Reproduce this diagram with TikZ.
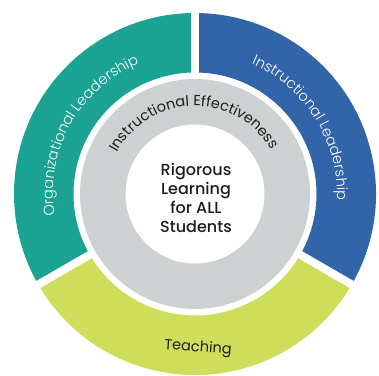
\documentclass[tikz,border=0pt]{standalone}
\usepackage{fontspec}
\setmainfont{Poppins}
\newfontfamily\poplight{Poppins Light}
\newfontfamily\popmed{Poppins Medium}
\usetikzlibrary{decorations.text}
\definecolor{orgteal}{HTML}{1AA393}
\definecolor{instblue}{HTML}{3164A9}
\definecolor{teachgreen}{HTML}{CEDE5A}
\definecolor{effgray}{HTML}{CDD1D2}
\definecolor{inkdark}{HTML}{1E1E1E}
\newcommand\efftext{\fontsize{14.5}{14.5}\selectfont\color{inkdark}}
\newcommand\ringtext{\poplight\fontsize{14.5}{14.5}\selectfont\color{white}}
\begin{document}
\begin{tikzpicture}[x=1pt,y=1pt,
  gap/.style={white,line width=8pt},
  arclabel/.style={decorate,decoration={text along path,text align=center,text={#1}}},
  coretext/.style={align=center,font=\popmed\fontsize{16}{19}\selectfont,text=inkdark,inner sep=0pt},
  bandtext/.style={font=\fontsize{14.5}{14.5}\selectfont,text=inkdark,inner sep=0pt}]
\useasboundingbox (0,0) rectangle (379,375);
\fill[white] (0,0) rectangle (379,375);
\begin{scope}[shift={(195,181)}]
  \coordinate (hub) at (0,0);
  % outer ring: three sectors
  \fill[orgteal] (90:181) arc[start angle=90,end angle=210,radius=181]
    -- (210:121.5) arc[start angle=210,end angle=90,radius=121.5] -- cycle;
  \fill[instblue] (-30:181) arc[start angle=-30,end angle=90,radius=181]
    -- (90:121.5) arc[start angle=90,end angle=-30,radius=121.5] -- cycle;
  \fill[teachgreen] (210:181) arc[start angle=210,end angle=330,radius=181]
    -- (330:121.5) arc[start angle=330,end angle=210,radius=121.5] -- cycle;
  % separators between sectors
  \draw[gap] (90:117) -- (90:186);
  \draw[gap] (210:117) -- (210:186);
  \draw[gap] (330:117) -- (330:186);
  % middle gray ring and white core
  \fill[effgray] (hub) circle[radius=115];
  \fill[white] (hub) circle[radius=69.5];
  % curved labels
  \path[arclabel={|\efftext|Instructional Effectiveness}]
    (181:88) arc[start angle=181,end angle=1,radius=88];
  \path[arclabel={|\ringtext|Organizational Leadership}]
    (211:142) arc[start angle=211,end angle=91,radius=142];
  \path[arclabel={|\ringtext|Instructional Leadership}]
    (92:142) arc[start angle=92,end angle=-28,radius=142];
  % straight labels
  \node[coretext] (core) at (1,-4) {Rigorous\\Learning\\for ALL\\Students};
  \node[bandtext,rotate=-4] (teaching) at (3,-154) {Teaching};
\end{scope}
\end{tikzpicture}
\end{document}
